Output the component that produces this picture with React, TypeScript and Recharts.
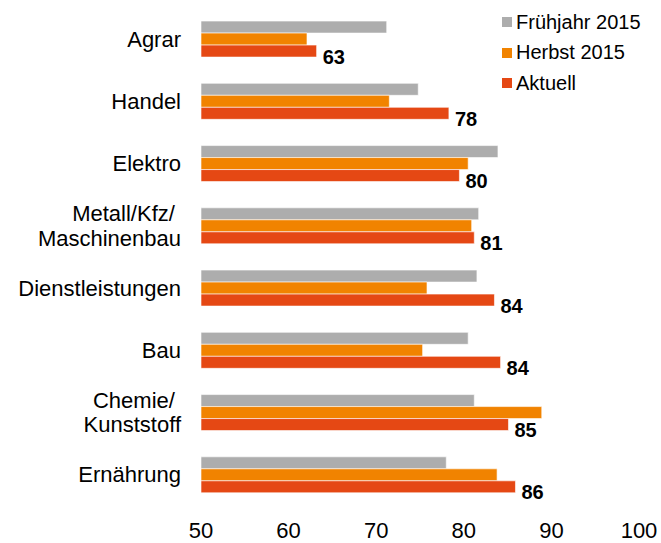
import React from "react";
import { BarChart, Bar, XAxis, YAxis, LabelList } from "recharts";

const categories = [
  "Agrar",
  "Handel",
  "Elektro",
  "Metall/Kfz/ \nMaschinenbau",
  "Dienstleistungen",
  "Bau",
  "Chemie/ \nKunststoff",
  "Ernährung",
];
const fruehjahr2015 = [71.2, 74.8, 83.9, 81.7, 81.5, 80.5, 81.2, 78.0];
const herbst2015 = [62.1, 71.5, 80.5, 80.9, 75.8, 75.3, 88.9, 83.8];
const aktuell = [63.2, 78.3, 79.5, 81.2, 83.5, 84.2, 85.1, 85.9];
const aktuellLabels = ["63", "78", "80", "81", "84", "84", "85", "86"];
const xTicks = [50, 60, 70, 80, 90, 100];

const seriesNames = ["Frühjahr 2015", "Herbst 2015", "Aktuell"];
const seriesKeys = ["fruehjahr", "herbst", "aktuell"];
const seriesColors = ["#ADADAD", "#F18300", "#E54814"];

const data = categories.map((name, i) => ({
  name,
  fruehjahr: fruehjahr2015[i],
  herbst: herbst2015[i],
  aktuell: aktuell[i],
  label: aktuellLabels[i],
}));

const FONT = "'Liberation Sans', Arial, sans-serif";

const YTick = (props: any) => {
  const { x, y, payload } = props;
  const lines = String(payload.value).split("\n");
  const lh = 24.5;
  const start = y - ((lines.length - 1) * lh) / 2 + 7.5;
  return (
    <text
      x={x}
      y={start}
      textAnchor="end"
      fontSize={22}
      fill="#000"
      fontFamily={FONT}
      style={{ whiteSpace: "pre" }}
    >
      {lines.map((l, i) => (
        <tspan key={i} x={x} dy={i === 0 ? 0 : lh}>
          {l}
        </tspan>
      ))}
    </text>
  );
};

const XTick = (props: any) => {
  const { x, y, payload } = props;
  return (
    <text x={x} y={y} dy={32} textAnchor="middle" fontSize={22} fill="#000" fontFamily={FONT}>
      {payload.value}
    </text>
  );
};

const ValueLabel = (props: any) => {
  const { x, y, width, height, value } = props;
  return (
    <text
      x={Number(x) + Number(width) + 6}
      y={Number(y) + Number(height) / 2 + 12.5}
      fontSize={20}
      fontWeight="bold"
      fill="#000"
      fontFamily={FONT}
    >
      {value}
    </text>
  );
};

export default function App() {
  return (
    <div style={{ position: "absolute", left: 0, top: 0, width: 661, height: 543, background: "#fff" }}>
      <BarChart
        width={661}
        height={543}
        data={data}
        layout="vertical"
        barCategoryGap="21%"
        barGap={0}
        margin={{ top: 8, right: 22, bottom: 0, left: 0 }}
      >
        <XAxis
          type="number"
          domain={[50, 100]}
          ticks={xTicks}
          axisLine={false}
          tickLine={false}
          tickSize={0}
          tickMargin={0}
          height={37}
          tick={<XTick />}
          interval={0}
        />
        <YAxis
          type="category"
          dataKey="name"
          width={201}
          axisLine={false}
          tickLine={false}
          tickSize={0}
          tickMargin={20}
          tick={<YTick />}
          interval={0}
        />
        {seriesKeys.map((k, i) => (
          <Bar
            key={k}
            dataKey={k}
            fill={seriesColors[i]}
            stroke="#ffffff"
            strokeOpacity={0.6}
            strokeWidth={1}
            isAnimationActive={false}
          >
            {k === "aktuell" ? <LabelList dataKey="label" content={<ValueLabel />} /> : null}
          </Bar>
        ))}
      </BarChart>
      <div style={{ position: "absolute", left: 502, top: 7, fontFamily: FONT, fontSize: 20, color: "#000" }}>
        {seriesNames.map((n, i) => (
          <div key={n} style={{ display: "flex", alignItems: "center", height: 30.5 }}>
            <span style={{ width: 10, height: 10, background: seriesColors[i], marginRight: 4, display: "inline-block" }} />
            <span>{n}</span>
          </div>
        ))}
      </div>
    </div>
  );
}
